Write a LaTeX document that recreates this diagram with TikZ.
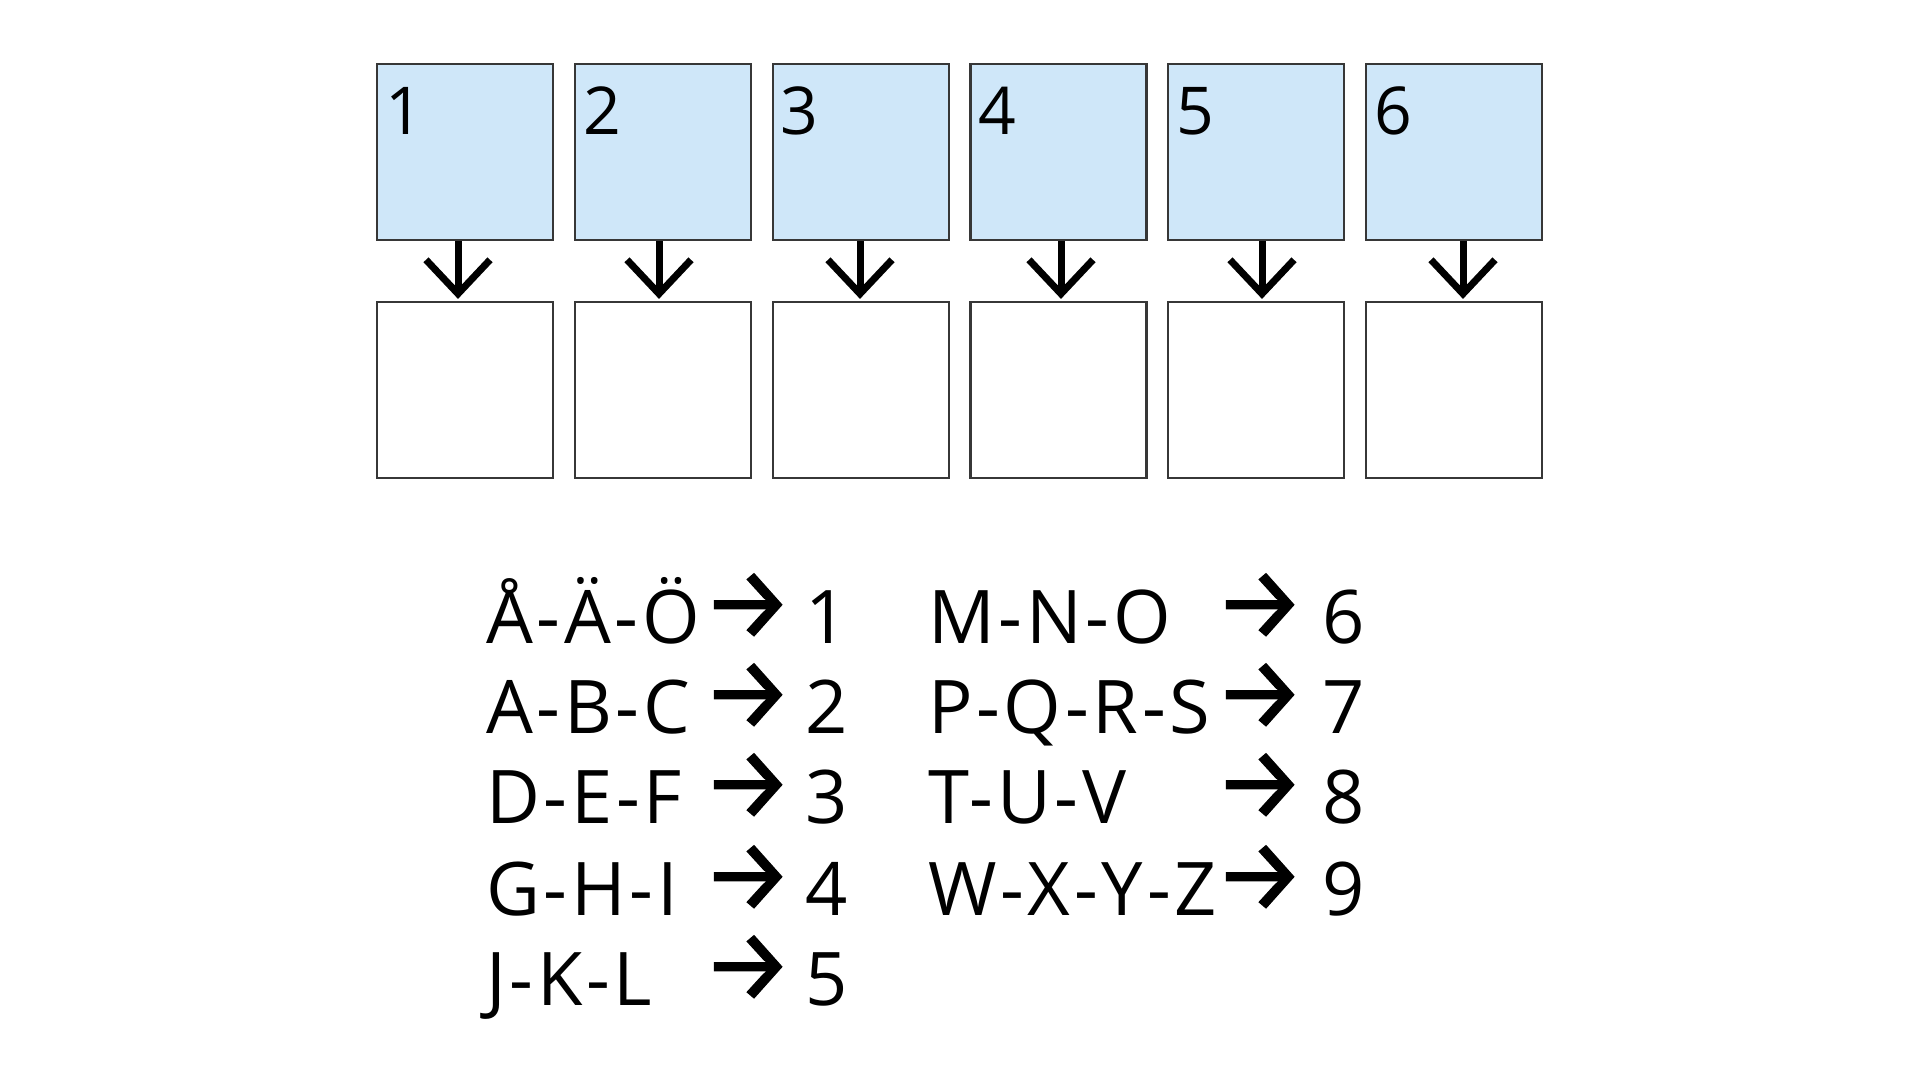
\documentclass[tikz,border=0pt]{standalone}
\usepackage{fontspec}
\setmainfont{Open Sans}
\newfontfamily\keyfont[LetterSpace=5]{Open Sans}
\newfontfamily\arrowfont[FakeBold=1.2]{Fira Sans}
\usetikzlibrary{arrows.meta}
\definecolor{boxblue}{RGB}{207,231,249}
\definecolor{boxline}{RGB}{55,55,55}
\tikzset{
  topbox/.style={draw=boxline, line width=2.2pt, fill=boxblue, minimum size=176pt, inner sep=0pt},
  botbox/.style={draw=boxline, line width=2.2pt, fill=white, minimum size=176pt, inner sep=0pt},
  numlbl/.style={anchor=base west, inner sep=0pt, font=\fontsize{66}{72}\selectfont},
  dnarrow/.style={line width=7pt, -{Straight Barb[length=34pt, width=64pt, line width=7pt]}},
  keytxt/.style={anchor=base west, inner sep=0pt, font=\keyfont\fontsize{74}{80}\selectfont},
  keynum/.style={anchor=base west, inner sep=0pt, font=\fontsize{74}{80}\selectfont},
  keyarr/.style={anchor=base west, inner sep=0pt, text height=60pt, text depth=0pt, font=\arrowfont\fontsize{101}{105}\selectfont},
}
\begin{document}
\begin{tikzpicture}[x=1pt, y=-1pt]
\useasboundingbox (0,0) rectangle (1920,1080);
\foreach \i in {1,...,6} {
  \pgfmathsetmacro{\cx}{465+197.8*(\i-1)}
  \pgfmathsetmacro{\ax}{-7+3.2*(\i-1)}
  \node[topbox] (t\i) at (\cx,152) {};
  \node[botbox] (b\i) at (\cx,390) {};
  \node[numlbl] (n\i) at (\cx-80,134) {\i};
  \draw[dnarrow] ([xshift=\ax pt]t\i.south) -- ([xshift=\ax pt, yshift=2pt]b\i.north);
}
% left column
\node[keytxt] (l1) at (486,643) {Å-Ä-Ö};
\node[keytxt] (l2) at (486,733) {A-B-C};
\node[keytxt] (l3) at (486,823) {D-E-F};
\node[keytxt] (l4) at (486,915) {G-H-I};
\node[keytxt] (l5) at (486,1005) {J-K-L};
\foreach \j/\y in {1/643,2/733,3/823,4/915,5/1005} {
  \node[keyarr] (la\j) at (702,\y-5) {→};
  \node[keynum] (ld\j) at (805,\y) {\j};
}
% right column
\node[keytxt] (r1) at (928,643) {M-N-O};
\node[keytxt] (r2) at (928,733) {P-Q-R-S};
\node[keytxt] (r3) at (928,823) {T-U-V};
\node[keytxt] (r4) at (928,915) {W-X-Y-Z};
\foreach \j/\d/\y in {1/6/643,2/7/733,3/8/823,4/9/915} {
  \node[keyarr] (ra\j) at (1214,\y-5) {→};
  \node[keynum] (rd\j) at (1322,\y) {\d};
}
\end{tikzpicture}
\end{document}
